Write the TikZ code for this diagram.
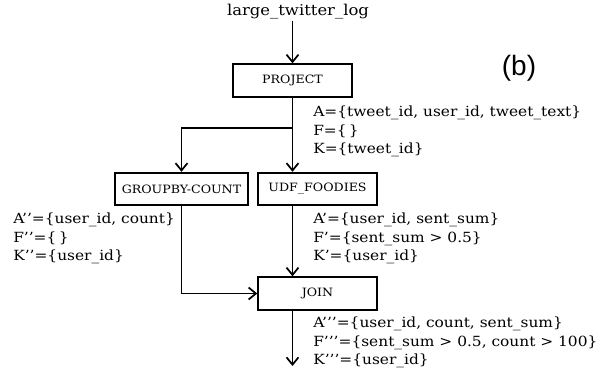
\documentclass[tikz,border=0pt]{standalone}
\usepackage{fontspec}
\setmainfont{DejaVu Serif}[FakeStretch=1.1]
\newfontfamily\tagfont{Liberation Sans}
\usetikzlibrary{positioning,arrows.meta}

\tikzset{
  opbox/.style={draw, line width=1.3pt, minimum height=24.5pt, inner sep=0.75pt, font=\fontsize{8.6}{10}\selectfont},
  flow/.style={line width=1.3pt, -{Straight Barb[length=5.5pt,width=9pt,line width=1.3pt]}},
  props/.style={anchor=north west, inner sep=0.75pt, align=left, font=\fontsize{10.5}{13.9}\selectfont}
}

\begin{document}
\begin{tikzpicture}[x=0.75pt,y=0.75pt,yscale=-1,xscale=1]
  \useasboundingbox (0,0) rectangle (608,379);

  % operators
  \node (src) at (298,12) [inner sep=0.75pt, font=\fontsize{11.2}{13}\selectfont] {large\_twitter\_log};
  \node (project) at (292.5,80.5) [opbox, minimum width=89pt] {PROJECT};
  \node (groupby) at (181.5,189) [opbox, minimum width=99.5pt] {GROUPBY-COUNT};
  \node (udf) at (317.5,189) [opbox, minimum width=89pt] {UDF\_FOODIES};
  \node (join) at (317.5,293.5) [opbox, minimum width=89pt] {JOIN};
  \node (tag) at (519,68) [inner sep=0.75pt, font=\tagfont\fontsize{21}{24}\selectfont] {(b)};

  \coordinate (split) at (292.5,128);
  \coordinate (out) at (292.5,366);

  % edges
  \draw[flow] (src.south -| project) -- (project.north);
  \draw[flow] (project.south) -- (project.south |- udf.north);
  \draw[flow] (split) -| (groupby.north);
  \draw[flow] (udf.south -| project) -- (join.north -| project);
  \draw[flow] (groupby.south) |- (join.west);
  \draw[flow] (join.south -| project) -- (out);

  % attribute / filter / key sets
  \node (pset) at (312,105) [props] {A=\{tweet\_id, user\_id, tweet\_text\}\\F=\{\,\}\\K=\{tweet\_id\}};
  \node (gset) at (12,212) [props] {A’’=\{user\_id, count\}\\F’’=\{\,\}\\K’’=\{user\_id\}};
  \node (uset) at (312,212) [props] {A’=\{user\_id, sent\_sum\}\\F’=\{sent\_sum > 0.5\}\\K’=\{user\_id\}};
  \node (jset) at (312,316) [props] {A’’’=\{user\_id, count, sent\_sum\}\\F’’’=\{sent\_sum > 0.5, count > 100\}\\K’’’=\{user\_id\}};
\end{tikzpicture}
\end{document}
